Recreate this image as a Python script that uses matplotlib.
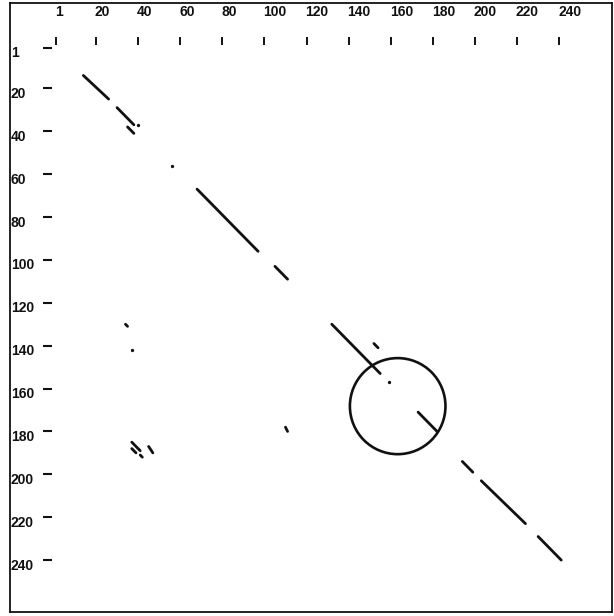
"""
Dot plot of a sequence compared with itself: matching runs show up as
diagonal strokes, with one region of interest circled.
"""
import matplotlib
matplotlib.use("Agg")
import matplotlib.pyplot as plt
from matplotlib.patches import Ellipse

# ─────────────────────────────────────────────
# Data
# ─────────────────────────────────────────────
tick_values = [1, 20, 40, 60, 80, 100, 120, 140, 160, 180, 200, 220, 240]
tick_labels = [str(v) for v in tick_values]

# matching runs: start (x0, y0) -> end (x1, y1), in residue numbers
seg_x0 = [14, 30, 35, 68, 105, 34, 110, 37, 37, 41, 45, 132, 152, 173, 194, 203, 230]
seg_y0 = [14, 29, 38, 67, 103, 130, 178, 185, 188, 191, 187, 130, 139, 171, 194, 203, 229]
seg_x1 = [26, 38, 38, 97, 111, 35, 111, 41, 39, 42, 47, 155, 154, 182, 199, 224, 241]
seg_y1 = [25, 37, 41, 96, 109, 131, 180, 189, 190, 192, 190, 153, 141, 180, 199, 223, 240]

# single matching residues
dot_x = [40, 56, 37, 159]
dot_y = [37, 56, 142, 157]

# circled region
circle_x, circle_y = 163.3, 168.2
circle_w, circle_h = 45.4, 44.8

# ─────────────────────────────────────────────
# Layout
# ─────────────────────────────────────────────
W, H = 614, 616
X_RANGE = (-20.85, 265.1)
Y_RANGE = (264.2, -19.8)
INK = "#111111"
FONT = ["Liberation Sans Narrow", "Liberation Sans", "DejaVu Sans"]


def draw():
    fig = plt.figure(figsize=(W / 100, H / 100), dpi=100)
    ax = fig.add_axes([10 / W, 1 - 612 / H, 602 / W, 609 / H])
    ax.set_xlim(*X_RANGE)
    ax.set_ylim(*Y_RANGE)
    ax.set_xticks([])
    ax.set_yticks([])
    for sp in ax.spines.values():
        sp.set_linewidth(1.3)
        sp.set_color(INK)

    # floating tick marks and labels inside the frame
    for v, lab in zip(tick_values, tick_labels):
        ax.plot([v, v], [-3.9, -0.3], color=INK, lw=1.4, solid_capstyle="butt")
        ax.text(v - 0.5, -15.4, lab, ha="left", va="center",
                fontsize=10, family=FONT, weight="bold", color=INK)
        ax.plot([-5.0, -0.8], [v, v], color=INK, lw=1.5, solid_capstyle="butt")
        ax.text(-20.4, v + 2.6, lab, ha="left", va="center",
                fontsize=10, family=FONT, weight="bold", color=INK)

    for x0, y0, x1, y1 in zip(seg_x0, seg_y0, seg_x1, seg_y1):
        ax.plot([x0, x1], [y0, y1], color=INK, lw=2.0, solid_capstyle="round")

    ax.plot(dot_x, dot_y, "o", color=INK, ms=2.4, mew=0)

    ax.add_patch(Ellipse((circle_x, circle_y), circle_w, circle_h,
                         fill=False, edgecolor=INK, lw=1.9))

    fig.savefig("out.png", dpi=100, facecolor="white")
    plt.close(fig)


if __name__ == "__main__":
    draw()
